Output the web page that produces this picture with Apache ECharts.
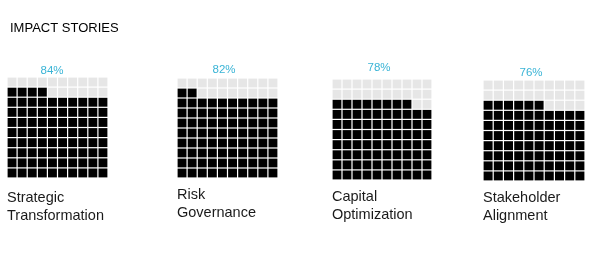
<!DOCTYPE html>
<html><head><meta charset="utf-8">
<script src="https://cdn.jsdelivr.net/npm/echarts@6/dist/echarts.min.js"></script>
<style>html,body{margin:0;padding:0;background:#fff}#c{width:596px;height:253px}</style>
</head><body><div id="c"></div>
<script>
const chartTitle = 'IMPACT STORIES';
const categories = ['Strategic\nTransformation', 'Risk\nGovernance', 'Capital\nOptimization', 'Stakeholder\nAlignment'];
const percents = [84, 82, 78, 76];
const gridCells = ['0','1','2','3','4','5','6','7','8','9'];

const layout = [
  {left: 7, top: 77, w: 101, h: 101, pctX: 52, pctTop: 65, labX: 7, labTop: 189},
  {left: 177, top: 78, w: 101, h: 100, pctX: 224, pctTop: 64, labX: 177, labTop: 186},
  {left: 332, top: 79, w: 100, h: 101, pctX: 379, pctTop: 62, labX: 332, labTop: 188},
  {left: 483, top: 80, w: 102, h: 101, pctX: 531, pctTop: 67, labX: 483, labTop: 189}
];

const grids = [], xAxes = [], yAxes = [], series = [], titles = [];
titles.push({text: chartTitle, left: 10, top: 22, padding: 0, textStyle: {fontFamily: 'Liberation Sans', fontSize: 13, fontWeight: 'normal', color: '#000'}});
percents.forEach((p, k) => {
  const L = layout[k];
  grids.push({left: L.left, top: L.top, width: L.w, height: L.h, containLabel: false});
  xAxes.push({type: 'category', gridIndex: k, data: gridCells, show: false});
  yAxes.push({type: 'category', gridIndex: k, data: gridCells, show: false});
  const filled = [], empty = [];
  for (let i = 0; i < 100; i++) {
    const pt = [gridCells[i % 10], gridCells[Math.floor(i / 10)]];
    (i < p ? filled : empty).push(pt);
  }
  const sz = [L.w / 10 - 1.2, L.h / 10 - 1.2];
  series.push({type: 'scatter', xAxisIndex: k, yAxisIndex: k, data: filled, symbol: 'rect', symbolSize: sz, itemStyle: {color: '#000', opacity: 1}, silent: true, animation: false});
  series.push({type: 'scatter', xAxisIndex: k, yAxisIndex: k, data: empty, symbol: 'rect', symbolSize: sz, itemStyle: {color: '#e6e6e6', opacity: 1}, silent: true, animation: false});
  titles.push({text: p + '%', left: L.pctX, top: L.pctTop, padding: 0, textAlign: 'center', textStyle: {fontFamily: 'Liberation Sans', fontSize: 11.5, fontWeight: 'normal', color: '#3ab4d6'}});
  titles.push({text: categories[k], left: L.labX, top: L.labTop, padding: 0, textStyle: {fontFamily: 'Liberation Sans', fontSize: 14.5, fontWeight: 'normal', color: '#1a1a1a', lineHeight: 18}});
});

const chart = echarts.init(document.getElementById('c'), null, {renderer: 'canvas'});
chart.setOption({backgroundColor: '#fff', animation: false, title: titles, grid: grids, xAxis: xAxes, yAxis: yAxes, series: series});
</script></body></html>
